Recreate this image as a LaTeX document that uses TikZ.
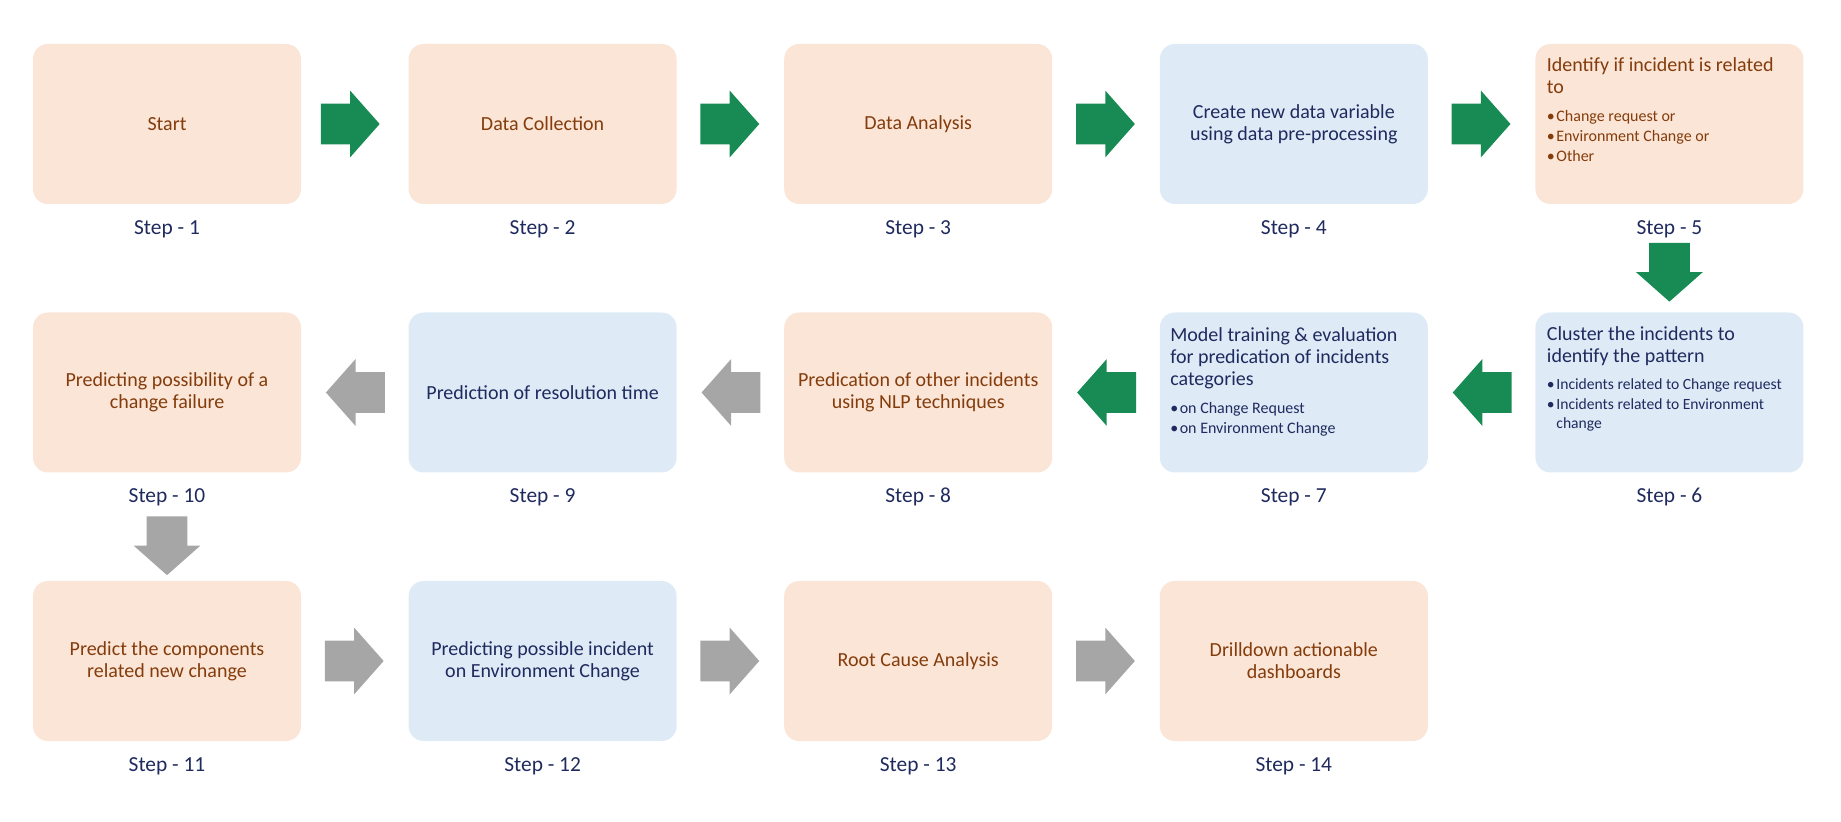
\documentclass[tikz,border=0pt]{standalone}
\usepackage{fontspec}
\setmainfont{Carlito}
\usetikzlibrary{shapes.arrows,calc}
\definecolor{peach}{RGB}{251,229,214}
\definecolor{pale}{RGB}{222,235,247}
\definecolor{rust}{RGB}{132,60,12}
\definecolor{navy}{RGB}{31,42,94}
\definecolor{leaf}{RGB}{24,139,84}
\definecolor{ash}{RGB}{166,166,166}
\newcommand{\dotitem}{\makebox[4.75pt][l]{\textbullet}}

\begin{document}
\begin{tikzpicture}[x=0.5pt,y=-0.5pt,
  card/.style={rounded corners=7.5pt,minimum width=134pt,minimum height=80pt,inner sep=0pt,align=center,font=\fontsize{10}{11}\selectfont},
  warm/.style={card,fill=peach,text=rust},
  cool/.style={card,fill=pale,text=navy},
  steplbl/.style={text=navy,inner sep=0pt,anchor=base,font=\fontsize{10.7}{12}\selectfont},
  blk/.style={single arrow,minimum height=28.5pt,minimum width=33pt,single arrow head extend=6.5pt,single arrow tip angle=97,inner sep=10pt,anchor=tail},
  go/.style={blk,fill=leaf},
  idle/.style={blk,fill=ash},
  inbox/.style={anchor=north west,text width=130pt,align=flush left,inner sep=0pt,font=\fontsize{10}{11}\selectfont}]
\useasboundingbox (0,0) rectangle (1841,822);

% first row
\node[warm] (b1) at (167,124) {Start};
\node[warm] (b2) at (542.6,124) {Data Collection};
\node[warm] (b3) at (918.2,124) {Data Analysis};
\node[cool] (b4) at (1293.8,124) {Create new data variable\\using data pre-processing};
\node[warm] (b5) at (1669.4,124) {};
\node[inbox,text=rust] (t5) at ([xshift=5.75pt,yshift=-6.7pt]b5.north west)
  {Identify if incident is related\\to\par\vspace{4pt}{\fontsize{8}{10}\selectfont\dotitem Change request or\\\dotitem Environment Change or\\\dotitem Other\par}};

% second row
\node[cool] (b6) at (1669.4,392.5) {};
\node[inbox,text=navy] (t6) at ([xshift=5.75pt,yshift=-7.2pt]b6.north west)
  {Cluster the incidents to\\identify the pattern\par\vspace{4pt}{\fontsize{7.8}{9.6}\selectfont\dotitem Incidents related to Change request\\\dotitem Incidents related to Environment\\\hspace*{4.75pt}change\par}};
\node[cool] (b7) at (1293.8,392.5) {};
\node[inbox,text=navy] (t7) at ([xshift=5.25pt,yshift=-7.7pt]b7.north west)
  {Model training \& evaluation\\for predication of incidents\\categories\par\vspace{4pt}{\fontsize{8}{10}\selectfont\dotitem on Change Request\\\dotitem on Environment Change\par}};
\node[warm] (b8) at (918.2,392.5) {Predication of other incidents\\using NLP techniques};
\node[cool] (b9) at (542.6,392.5) {Prediction of resolution time};
\node[warm] (b10) at (167,392.5) {Predicting possibility of a\\change failure};

% third row
\node[warm] (b11) at (167,661) {Predict the components\\related new change};
\node[cool] (b12) at (542.6,661) {Predicting possible incident\\on Environment Change};
\node[warm] (b13) at (918.2,661) {Root Cause Analysis};
\node[warm] (b14) at (1293.8,661) {Drilldown actionable\\dashboards};

% step numbers
\node[steplbl] (s1) at ([yshift=-15pt]b1.south) {Step - 1};
\node[steplbl] (s2) at ([yshift=-15pt]b2.south) {Step - 2};
\node[steplbl] (s3) at ([yshift=-15pt]b3.south) {Step - 3};
\node[steplbl] (s4) at ([yshift=-15pt]b4.south) {Step - 4};
\node[steplbl] (s5) at ([yshift=-15pt]b5.south) {Step - 5};
\node[steplbl] (s6) at ([yshift=-15pt]b6.south) {Step - 6};
\node[steplbl] (s7) at ([yshift=-15pt]b7.south) {Step - 7};
\node[steplbl] (s8) at ([yshift=-15pt]b8.south) {Step - 8};
\node[steplbl] (s9) at ([yshift=-15pt]b9.south) {Step - 9};
\node[steplbl] (s10) at ([yshift=-15pt]b10.south) {Step - 10};
\node[steplbl] (s11) at ([yshift=-15pt]b11.south) {Step - 11};
\node[steplbl] (s12) at ([yshift=-15pt]b12.south) {Step - 12};
\node[steplbl] (s13) at ([yshift=-15pt]b13.south) {Step - 13};
\node[steplbl] (s14) at ([yshift=-15pt]b14.south) {Step - 14};

% block arrows
\node[go] (a1) at ([xshift=9.5pt]b1.east) {};
\node[go] (a2) at ([xshift=11.5pt]b2.east) {};
\node[go] (a3) at ([xshift=11.5pt]b3.east) {};
\node[go] (a4) at ([xshift=11.5pt]b4.east) {};
\node[go,shape border rotate=270] (a5) at ([yshift=-19pt]b5.south) {};
\node[go,shape border rotate=180] (a6) at ([xshift=-11.5pt]b6.west) {};
\node[go,shape border rotate=180] (a7) at ([xshift=-11.5pt]b7.west) {};
\node[idle,shape border rotate=180] (a8) at ([xshift=-11.5pt]b8.west) {};
\node[idle,shape border rotate=180] (a9) at ([xshift=-11.5pt]b9.west) {};
\node[idle,shape border rotate=270] (a10) at ([yshift=-21.5pt]b10.south) {};
\node[idle] (a11) at ([xshift=11.5pt]b11.east) {};
\node[idle] (a12) at ([xshift=11.5pt]b12.east) {};
\node[idle] (a13) at ([xshift=11.5pt]b13.east) {};
\end{tikzpicture}
\end{document}
